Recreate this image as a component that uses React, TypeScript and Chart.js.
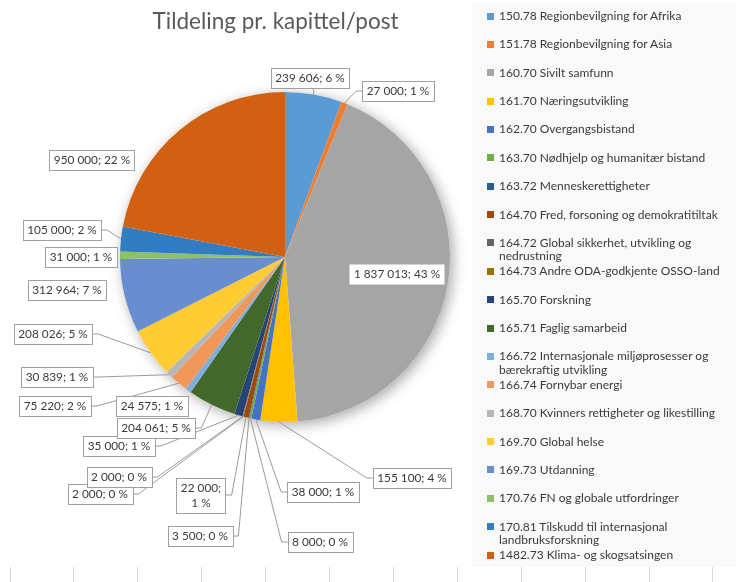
import React, { useEffect, useRef } from "react";
import { Chart, registerables } from "chart.js";

Chart.register(...registerables);

const title = "Tildeling pr. kapittel/post";

const categories = [
  "150.78 Regionbevilgning for Afrika",
  "151.78 Regionbevilgning for Asia",
  "160.70 Sivilt samfunn",
  "161.70 Næringsutvikling",
  "162.70 Overgangsbistand",
  "163.70 Nødhjelp og humanitær bistand",
  "163.72 Menneskerettigheter",
  "164.70 Fred, forsoning og demokratitiltak",
  "164.72 Global sikkerhet, utvikling og nedrustning",
  "164.73 Andre ODA-godkjente OSSO-land",
  "165.70 Forskning",
  "165.71 Faglig samarbeid",
  "166.72 Internasjonale miljøprosesser og bærekraftig utvikling",
  "166.74 Fornybar energi",
  "168.70 Kvinners rettigheter og likestilling",
  "169.70 Global helse",
  "169.73 Utdanning",
  "170.76 FN og globale utfordringer",
  "170.81 Tilskudd til internasjonal landbruksforskning",
  "1482.73 Klima- og skogsatsingen",
];

const values = [
  239606, 27000, 1837013, 155100, 38000, 8000, 3500, 22000, 2000, 2000,
  35000, 204061, 24575, 75220, 30839, 208026, 312964, 31000, 105000, 950000,
];

const colors = [
  "#5B9BD5", "#ED7D31", "#A5A5A5", "#FFC000", "#4472C4", "#70AD47",
  "#255E91", "#9E480E", "#636363", "#997300", "#264478", "#43682B",
  "#7CAFDD", "#F1975A", "#B7B7B7", "#FFCD33", "#698ED0", "#8CC168",
  "#327DC2", "#D26012",
];

// label box centre offsets from the pie centre (layout only)
const labelDX = [25, 113, 112, 127, 38, 35, -85, -84, -185, -166, -166, -129, -133, -230, -228, -232, -218, -204, -223, -193];
const labelDY = [-179, -166, 17, 221, 235, 285, 279, 238, 237, 220, 189, 171, 149, 149, 120, 77, 33, 0, -27, -97];
const labelLeader = [true, true, false, true, true, true, true, true, true, true, true, true, false, true, true, true, false, false, true, false];
const labelInside = [false, false, true, false, false, false, false, false, false, false, false, false, false, false, false, false, false, false, false, false];
const labelWrap = [false, false, false, false, false, false, false, true, false, false, false, false, false, false, false, false, false, false, false, false];

const FONT = "Lato, 'Open Sans', sans-serif";

const fmt = (v: number) => String(v).replace(/\B(?=(\d{3})+(?!\d))/g, " ");

const shadowPlugin = {
  id: "pieShadow",
  beforeDatasetsDraw(chart: any) {
    const meta = chart.getDatasetMeta(0);
    const arc = meta.data[0];
    if (!arc) return;
    const { x, y, outerRadius } = arc.getProps(["x", "y", "outerRadius"], true);
    const ctx = chart.ctx;
    ctx.save();
    ctx.shadowColor = "rgba(0,0,0,0.35)";
    ctx.shadowBlur = 14;
    ctx.shadowOffsetX = 3;
    ctx.shadowOffsetY = 3;
    ctx.beginPath();
    ctx.arc(x, y, outerRadius, 0, Math.PI * 2);
    ctx.fillStyle = "#ffffff";
    ctx.fill();
    ctx.restore();
  },
};

const labelPlugin = {
  id: "pieLabels",
  afterDatasetsDraw(chart: any) {
    const ctx = chart.ctx;
    const meta = chart.getDatasetMeta(0);
    const data: number[] = chart.data.datasets[0].data;
    const total = data.reduce((a, b) => a + b, 0);
    ctx.save();
    ctx.font = `11.8px ${FONT}`;
    const boxes: any[] = [];
    meta.data.forEach((el: any, i: number) => {
      const p = el.getProps(["x", "y", "startAngle", "endAngle", "outerRadius"], true);
      const mid = (p.startAngle + p.endAngle) / 2;
      const px = p.x + Math.cos(mid) * p.outerRadius;
      const py = p.y + Math.sin(mid) * p.outerRadius;
      const v = data[i];
      const pct = Math.round((v / total) * 100) + " %";
      const lines = labelWrap[i] ? [fmt(v) + ";", pct] : [fmt(v) + "; " + pct];
      const tw = Math.max(...lines.map((l) => ctx.measureText(l).width));
      const lh = 15;
      const w = tw + 9;
      const h = lines.length * lh + 5;
      const cx = p.x + labelDX[i];
      const cy = p.y + labelDY[i];
      boxes.push({ i, px, py, lines, w, h, cx, cy, lh });
    });
    // leader lines
    ctx.strokeStyle = "#9a9a9a";
    ctx.lineWidth = 1;
    boxes.forEach((b) => {
      if (!labelLeader[b.i]) return;
      const left = b.cx - b.w / 2;
      const right = b.cx + b.w / 2;
      const top = b.cy - b.h / 2;
      const bottom = b.cy + b.h / 2;
      ctx.beginPath();
      ctx.moveTo(b.px, b.py);
      if (b.px >= left && b.px <= right) {
        ctx.lineTo(b.px, b.py < top ? top : bottom);
      } else if (b.px < left) {
        ctx.lineTo(left - 6, b.cy);
        ctx.lineTo(left, b.cy);
      } else {
        ctx.lineTo(right + 6, b.cy);
        ctx.lineTo(right, b.cy);
      }
      ctx.stroke();
    });
    // boxes and text
    boxes.forEach((b) => {
      const left = Math.round(b.cx - b.w / 2) + 0.5;
      const top = Math.round(b.cy - b.h / 2) + 0.5;
      ctx.fillStyle = "#ffffff";
      ctx.fillRect(left, top, Math.round(b.w), Math.round(b.h));
      if (!labelInside[b.i]) {
        ctx.strokeStyle = "#a0a0a0";
        ctx.strokeRect(left, top, Math.round(b.w), Math.round(b.h));
      }
      ctx.fillStyle = "#3a3a3a";
      ctx.textAlign = "center";
      ctx.textBaseline = "middle";
      b.lines.forEach((l: string, k: number) => {
        const yy = b.cy - ((b.lines.length - 1) * b.lh) / 2 + k * b.lh + 0.5;
        ctx.fillText(l, b.cx, yy);
      });
    });
    ctx.restore();
  },
};

const legendStep = 28.37;

export default function App() {
  const ref = useRef<HTMLCanvasElement | null>(null);

  useEffect(() => {
    if (!ref.current) return;
    const chart = new Chart(ref.current, {
      type: "pie",
      data: {
        labels: categories,
        datasets: [
          {
            data: values,
            backgroundColor: colors,
            borderWidth: 0,
            hoverOffset: 0,
            offset: 0,
          },
        ],
      },
      options: {
        responsive: false,
        animation: false,
        devicePixelRatio: 1,
        layout: { padding: { left: 120, top: 92, right: 286, bottom: 160 } },
        plugins: {
          legend: { display: false },
          tooltip: { enabled: false },
          title: { display: false },
        },
      },
      plugins: [shadowPlugin, labelPlugin],
    });
    return () => chart.destroy();
  }, []);

  const gridXs = Array.from({ length: 12 }, (_, k) => Math.round(9.5 + k * 63.9));

  return (
    <div style={{ position: "absolute", left: 0, top: 0, width: 736, height: 582, background: "#ffffff", overflow: "hidden", fontFamily: FONT }}>
      <div style={{ position: "absolute", left: 472, top: 3, width: 264, height: 564, background: "#f9f9f9" }} />
      {gridXs.map((x) => (
        <div key={x} style={{ position: "absolute", left: x, top: 567, width: 1, height: 15, background: "#d9d9d9" }} />
      ))}
      <canvas ref={ref} width={736} height={582} style={{ position: "absolute", left: 0, top: 0, width: 736, height: 582 }} />
      <div style={{ position: "absolute", left: 0, top: 6, width: 551, textAlign: "center", fontSize: 22.5, color: "#595959", lineHeight: "30px" }}>
        {title}
      </div>
      {categories.map((c, i) => (
        <div key={c} style={{ position: "absolute", left: 487, top: 16 + i * legendStep - 7, width: 245 }}>
          <div style={{ position: "absolute", left: 0, top: 3.5, width: 7, height: 7, background: colors[i] }} />
          <div style={{ position: "absolute", left: 12, top: 0, width: 234, fontSize: 12, lineHeight: "13.5px", color: "#3a3a3a" }}>{c}</div>
        </div>
      ))}
    </div>
  );
}
